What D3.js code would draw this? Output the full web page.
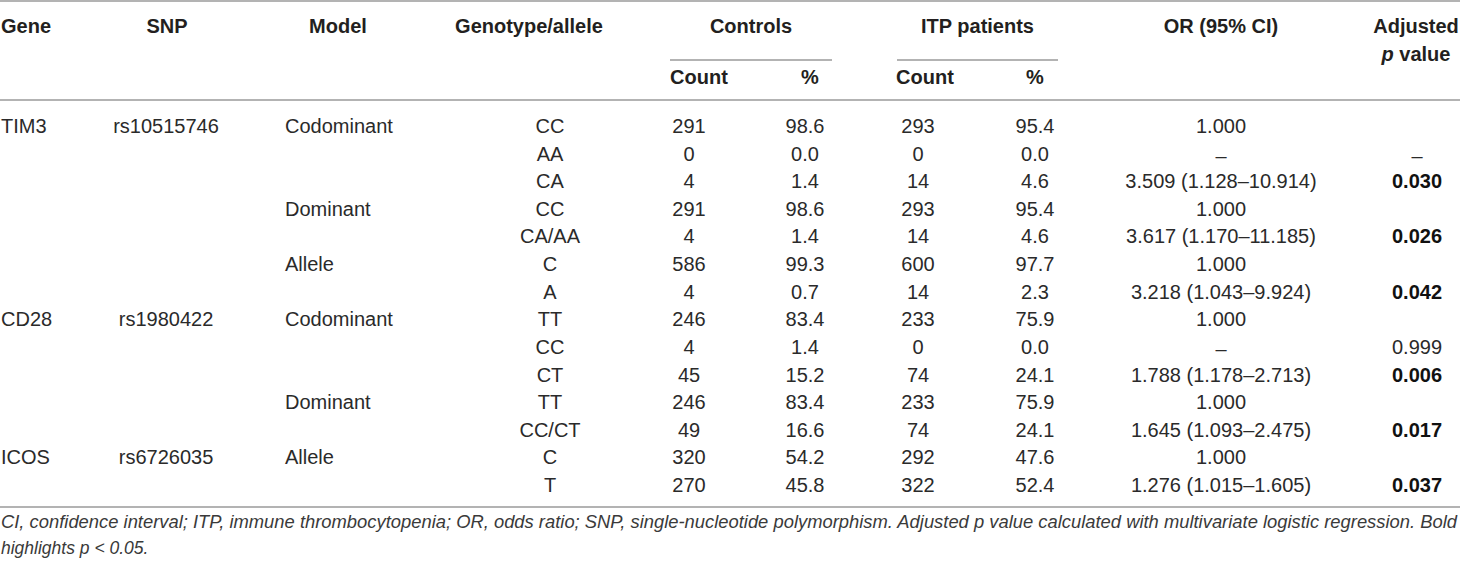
<!DOCTYPE html>
<html>
<head>
<meta charset="utf-8">
<script src="https://cdn.jsdelivr.net/npm/d3@7"></script>
<style>
  html, body { margin: 0; padding: 0; background: #fff; }
  svg { display: block; font-family: "Liberation Sans", Arial, sans-serif; }
  .cell { font-size: 20px; fill: #2a2a2a; }
  .head { font-size: 20px; font-weight: bold; fill: #231f20; }
  .bold { font-weight: bold; fill: #111; }
  .rule { stroke: #9a9a9a; stroke-width: 1.5; }
  .note { font-size: 17.5px; font-style: italic; fill: #3a3a3a; }
</style>
</head>
<body>
<svg id="chart" width="1460" height="563"></svg>
<script>
// table values, one array per column
const genes     = ['TIM3', '', '', '', '', '', '', 'CD28', '', '', '', '', 'ICOS', ''];
const snps      = ['rs10515746', '', '', '', '', '', '', 'rs1980422', '', '', '', '', 'rs6726035', ''];
const models    = ['Codominant', '', '', 'Dominant', '', 'Allele', '', 'Codominant', '', '', 'Dominant', '', 'Allele', ''];
const genotypes = ['CC', 'AA', 'CA', 'CC', 'CA/AA', 'C', 'A', 'TT', 'CC', 'CT', 'TT', 'CC/CT', 'C', 'T'];
const ctrlCount = ['291', '0', '4', '291', '4', '586', '4', '246', '4', '45', '246', '49', '320', '270'];
const ctrlPct   = ['98.6', '0.0', '1.4', '98.6', '1.4', '99.3', '0.7', '83.4', '1.4', '15.2', '83.4', '16.6', '54.2', '45.8'];
const itpCount  = ['293', '0', '14', '293', '14', '600', '14', '233', '0', '74', '233', '74', '292', '322'];
const itpPct    = ['95.4', '0.0', '4.6', '95.4', '4.6', '97.7', '2.3', '75.9', '0.0', '24.1', '75.9', '24.1', '47.6', '52.4'];
const orCI      = ['1.000', '–', '3.509 (1.128–10.914)', '1.000', '3.617 (1.170–11.185)', '1.000',
                   '3.218 (1.043–9.924)', '1.000', '–', '1.788 (1.178–2.713)', '1.000',
                   '1.645 (1.093–2.475)', '1.000', '1.276 (1.015–1.605)'];
const pValues   = ['', '–', '0.030', '', '0.026', '', '0.042', '', '0.999', '0.006', '', '0.017', '', '0.037'];

const headers = ['Gene', 'SNP', 'Model', 'Genotype/allele', 'OR (95% CI)'];
const groupHeaders = ['Controls', 'ITP patients'];
const subHeaders = ['Count', '%', 'Count', '%'];
const footnotes = [
  'CI, confidence interval; ITP, immune thrombocytopenia; OR, odds ratio; SNP, single-nucleotide polymorphism. Adjusted p value calculated with multivariate logistic regression. Bold',
  'highlights p < 0.05.'
];

const columns = [
  {key: 'gene', values: genes, anchor: 'start'},
  {key: 'snp', values: snps, anchor: 'middle'},
  {key: 'model', values: models, anchor: 'start'},
  {key: 'geno', values: genotypes, anchor: 'middle'},
  {key: 'cc', values: ctrlCount, anchor: 'middle'},
  {key: 'cp', values: ctrlPct, anchor: 'middle'},
  {key: 'ic', values: itpCount, anchor: 'middle'},
  {key: 'ip', values: itpPct, anchor: 'middle'},
  {key: 'or', values: orCI, anchor: 'middle'},
  {key: 'p', values: pValues, anchor: 'middle'}
];

const svg = d3.select('#chart');

const x = d3.scaleOrdinal()
  .domain(columns.map(c => c.key))
  .range([1, 166, 285, 550, 689, 805, 918, 1035, 1221, 1417]);

const xHead = d3.scaleOrdinal()
  .domain(['Gene', 'SNP', 'Model', 'Genotype/allele', 'OR (95% CI)', 'Adjusted'])
  .range([1, 167, 338, 529, 1221, 1416]);

const xSub = d3.scaleOrdinal()
  .domain(d3.range(4))
  .range([699, 810, 925, 1035]);

const groupSpan = d3.scaleOrdinal()
  .domain(groupHeaders)
  .range([[670, 832], [897, 1058]]);

const y = d3.scalePoint()
  .domain(d3.range(genotypes.length))
  .range([126, 485]);

// rules
const rules = [1, 100, 507];
svg.selectAll('line.full')
  .data(rules)
  .join('line')
  .attr('class', 'rule full')
  .attr('x1', 0).attr('x2', 1460)
  .attr('y1', d => d).attr('y2', d => d);

svg.selectAll('line.group')
  .data(groupHeaders)
  .join('line')
  .attr('class', 'rule group')
  .attr('x1', d => groupSpan(d)[0]).attr('x2', d => groupSpan(d)[1])
  .attr('y1', 60).attr('y2', 60);

// headers
svg.selectAll('text.h1')
  .data(headers)
  .join('text')
  .attr('class', 'head h1')
  .attr('x', d => xHead(d))
  .attr('y', 33)
  .attr('text-anchor', d => d === 'Gene' ? 'start' : 'middle')
  .text(d => d);

svg.selectAll('text.g1')
  .data(groupHeaders)
  .join('text')
  .attr('class', 'head g1')
  .attr('x', d => (groupSpan(d)[0] + groupSpan(d)[1]) / 2)
  .attr('y', 33)
  .attr('text-anchor', 'middle')
  .text(d => d);

svg.selectAll('text.s1')
  .data(subHeaders)
  .join('text')
  .attr('class', 'head s1')
  .attr('x', (d, i) => xSub(i))
  .attr('y', 84)
  .attr('text-anchor', 'middle')
  .text(d => d);

svg.append('text')
  .attr('class', 'head')
  .attr('text-anchor', 'middle')
  .attr('x', xHead('Adjusted'))
  .attr('y', 33)
  .text('Adjusted');

const pv = svg.append('text')
  .attr('class', 'head')
  .attr('text-anchor', 'middle')
  .attr('x', xHead('Adjusted'))
  .attr('y', 61);
pv.append('tspan').attr('font-style', 'italic').text('p');
pv.append('tspan').text(' value');

// body cells
const cells = columns.flatMap(c => c.values.map((v, i) => ({col: c, row: i, v})))
  .filter(d => d.v !== '');

svg.selectAll('text.cell')
  .data(cells)
  .join('text')
  .attr('class', d => 'cell' + (d.col.key === 'p' && d.v !== '–' && +d.v < 0.05 ? ' bold' : ''))
  .attr('x', d => x(d.col.key))
  .attr('y', d => y(d.row) + (d.v === '–' ? 9 : 7))
  .attr('text-anchor', d => d.col.anchor)
  .text(d => d.v);

// footnote
svg.selectAll('text.note')
  .data(footnotes)
  .join('text')
  .attr('class', 'note')
  .attr('x', 1)
  .attr('y', (d, i) => 528 + i * 26)
  .text(d => d)
  .filter((d, i) => i === 0)
  .attr('textLength', 1456)
  .attr('lengthAdjust', 'spacingAndGlyphs');
</script>
</body>
</html>
